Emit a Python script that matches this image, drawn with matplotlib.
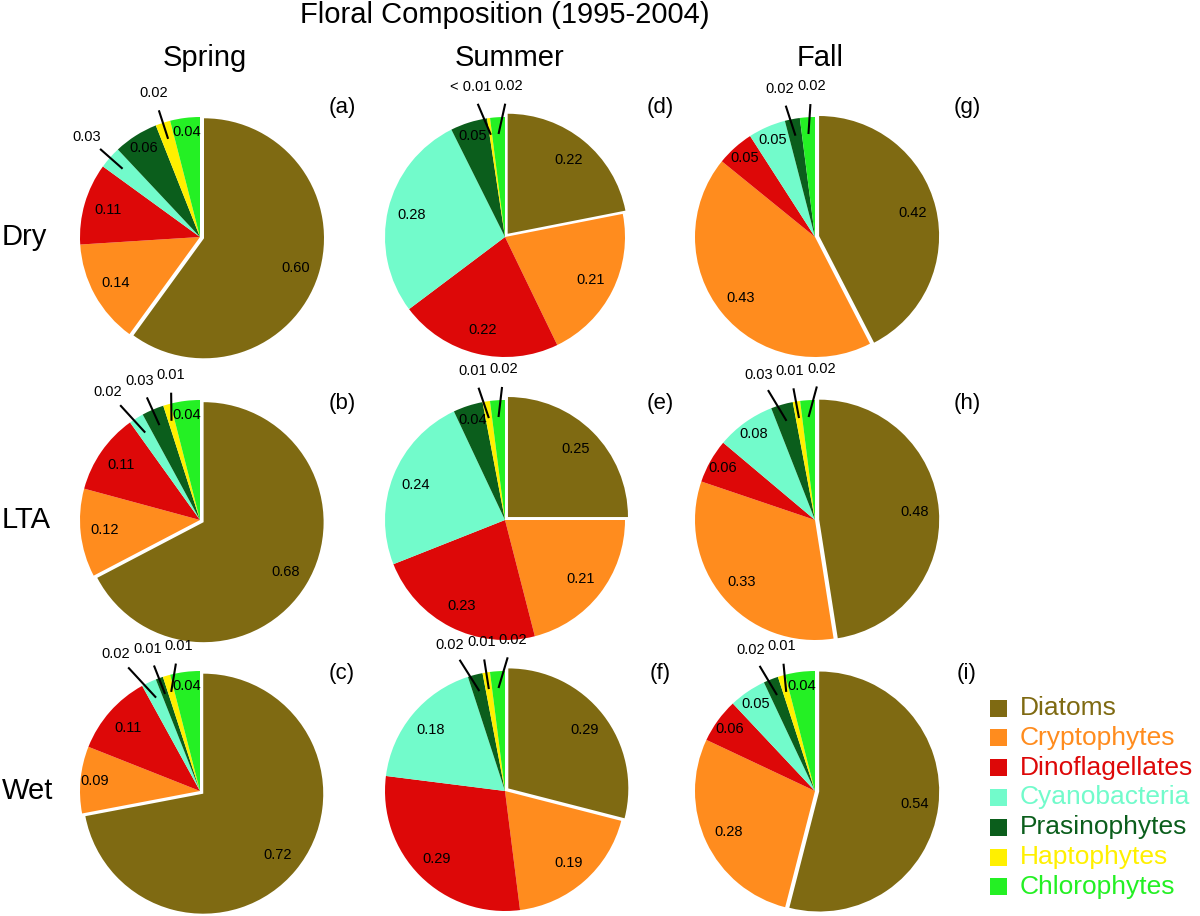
import matplotlib
matplotlib.use("Agg")
import matplotlib.pyplot as plt
from matplotlib.patches import Rectangle
import numpy as np

plt.rcParams['font.family'] = ['Liberation Sans', 'DejaVu Sans']

groups = ["Diatoms", "Cryptophytes", "Dinoflagellates", "Cyanobacteria",
          "Prasinophytes", "Haptophytes", "Chlorophytes"]
colors = ["#7F6A12", "#FF8C1E", "#DD0808", "#72FBCB", "#0B5E1C", "#FFF000", "#24F024"]

seasons = ["Spring", "Summer", "Fall"]
conditions = ["Dry", "LTA", "Wet"]
panel_letters = [["(a)", "(d)", "(g)"], ["(b)", "(e)", "(h)"], ["(c)", "(f)", "(i)"]]

# values in order of groups
spring_dry = [0.60, 0.14, 0.11, 0.03, 0.06, 0.02, 0.04]
spring_lta = [0.68, 0.12, 0.11, 0.02, 0.03, 0.01, 0.04]
spring_wet = [0.72, 0.09, 0.11, 0.02, 0.01, 0.01, 0.04]
summer_dry = [0.22, 0.21, 0.22, 0.28, 0.05, 0.004, 0.02]
summer_lta = [0.25, 0.21, 0.23, 0.24, 0.04, 0.01, 0.02]
summer_wet = [0.29, 0.19, 0.29, 0.18, 0.02, 0.01, 0.02]
fall_dry = [0.42, 0.43, 0.05, 0.05, 0.02, 0.0, 0.02]
fall_lta = [0.48, 0.33, 0.06, 0.08, 0.03, 0.01, 0.02]
fall_wet = [0.54, 0.28, 0.06, 0.05, 0.02, 0.01, 0.04]

data = [[spring_dry, summer_dry, fall_dry],
        [spring_lta, summer_lta, fall_lta],
        [spring_wet, summer_wet, fall_wet]]

W, H = 1200, 916
fig = plt.figure(figsize=(W / 100, H / 100), dpi=100)

col_x = [200, 505, 815]
row_y = [237, 520, 791]
R = 120  # px per unit radius
L = 1.45


def fmt(v):
    return "< 0.01" if v < 0.01 else f"{v:.2f}"


for i in range(3):
    for j in range(3):
        vals = data[i][j]
        cx, cy = col_x[j], row_y[i]
        half = L * R
        ax = fig.add_axes([(cx - half) / W, 1 - (cy + half) / H, 2 * half / W, 2 * half / H])
        explode = [0.035] + [0] * (len(vals) - 1)
        wedges, _ = ax.pie(vals, colors=colors, startangle=90, counterclock=False,
                           explode=explode, wedgeprops=dict(linewidth=0))
        ax.set_xlim(-L, L)
        ax.set_ylim(-L, L)
        ax.set_aspect('equal')
        ax.axis('off')

        outside = []
        for k, (w, v) in enumerate(zip(wedges, vals)):
            if v <= 0:
                continue
            th = np.deg2rad((w.theta1 + w.theta2) / 2)
            c = np.array(w.center)
            if v > 0.035:
                d = 0.8 if v > 0.1 else 0.88
                ax.text(c[0] + d * np.cos(th), c[1] + d * np.sin(th), fmt(v),
                        ha='center', va='center', fontsize=10.5, color='black')
            else:
                outside.append([1.26 * np.cos(th), 1.26 * np.sin(th), th, fmt(v)])

        # spread outside labels horizontally when they share a row
        outside.sort(key=lambda o: o[0])
        nat = [o[0] for o in outside]
        new = list(nat)
        clustered = False
        for k in range(1, len(outside)):
            if abs(outside[k][1] - outside[k - 1][1]) < 0.15:
                gap = 0.058 * (len(outside[k][3]) + len(outside[k - 1][3])) / 2 + 0.03
                if new[k] < new[k - 1] + gap:
                    new[k] = new[k - 1] + gap
                    clustered = True
        if clustered:
            shift = np.mean(nat) - np.mean(new)
            new = [x + shift for x in new]
        for o, nx in zip(outside, new):
            lx, ly, th, s = nx, o[1], o[2], o[3]
            sx, sy = 0.86 * np.cos(th), 0.86 * np.sin(th)
            vec = np.array([lx - sx, ly - sy])
            vec = vec / np.linalg.norm(vec)
            ex, ey = lx - 0.15 * vec[0], ly - 0.15 * vec[1]
            ax.plot([sx, ex], [sy, ey], color='black', lw=1.5, solid_capstyle='butt')
            ax.text(lx, ly, s, ha='center', va='center', fontsize=10.5, color='black')

# overlay for texts and legend in pixel coordinates
ov = fig.add_axes([0, 0, 1, 1])
ov.set_xlim(0, W)
ov.set_ylim(H, 0)
ov.axis('off')

ov.text(300, 15, "Floral Composition (1995-2004)", ha='left', va='center', fontsize=21)
for j, s in enumerate(seasons):
    ov.text(col_x[j] + 5, 58, s, ha='center', va='center', fontsize=21)
for i, s in enumerate(conditions):
    ov.text(2, row_y[i], s, ha='left', va='center', fontsize=21)

panel_x = [342, 660, 967]
panel_y = [107, 403, 673]
for i in range(3):
    for j in range(3):
        ov.text(panel_x[j], panel_y[i], panel_letters[i][j], ha='center', va='center', fontsize=16)

leg_y0, leg_dy = 708, 29.8
for k, (g, c) in enumerate(zip(groups, colors)):
    y = leg_y0 + k * leg_dy
    ov.add_patch(Rectangle((990, y - 8.5), 17, 17, facecolor=c, edgecolor='none'))
    ov.text(1020, y, g, ha='left', va='center', fontsize=19, color=c)

fig.savefig("out.png", dpi=100)
